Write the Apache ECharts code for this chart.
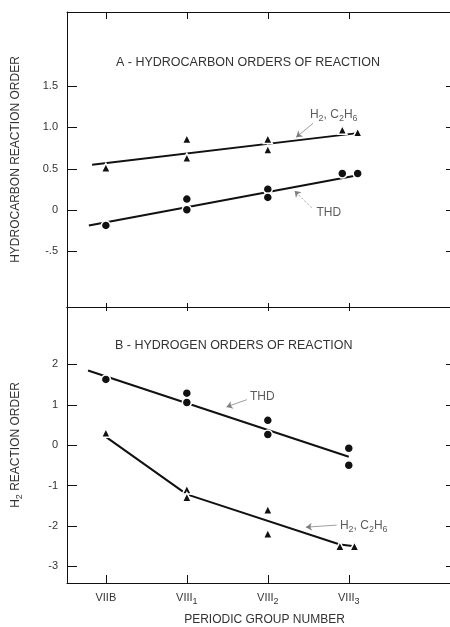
<!DOCTYPE html>
<html><head><meta charset="utf-8">
<script src="https://cdn.jsdelivr.net/npm/echarts@6/dist/echarts.min.js"></script>
<style>html,body{margin:0;padding:0;background:#fff}#c{width:450px;height:627px}</style>
</head><body><div id="c"></div><script>
// ---- data ----
const groupPos = [1, 2, 3, 4];
const groupLabels = ['VIIB', 'VIII{s|1}', 'VIII{s|2}', 'VIII{s|3}'];

// Panel A: hydrocarbon orders of reaction
const aThdX = [1, 2, 2, 3, 3, 3.92, 4.11];
const aThdY = [-0.19, 0.13, 0.0, 0.25, 0.15, 0.44, 0.44];
const aH2X = [1, 2, 2, 3, 3, 3.92, 4.11];
const aH2Y = [0.51, 0.86, 0.63, 0.86, 0.73, 0.97, 0.94];
const aThdFitX = [0.79, 4.11];
const aThdFitY = [-0.19, 0.42];
const aH2FitX = [0.83, 4.11];
const aH2FitY = [0.545, 0.93];
const aTicks = [-0.5, 0, 0.5, 1, 1.5];
const aTickLabels = ['-.5', '0', '0.5', '1.0', '1.5'];

// Panel B: hydrogen orders of reaction
const bThdX = [1, 2, 2, 3, 3, 4, 4];
const bThdY = [1.62, 1.28, 1.05, 0.61, 0.26, -0.08, -0.5];
const bH2X = [1, 2, 2, 3, 3, 3.89, 4.07];
const bH2Y = [0.3, -1.1, -1.29, -1.6, -2.19, -2.5, -2.5];
const bThdFitX = [0.78, 4.0];
const bThdFitY = [1.84, -0.29];
const bH2FitX = [1.0, 2.0, 3.89, 4.07];
const bH2FitY = [0.2, -1.22, -2.46, -2.5];
const bTicks = [-3, -2, -1, 0, 1, 2];
const bTickLabels = ['-3', '-2', '-1', '0', '1', '2'];

const zip = (xs, ys) => xs.map((x, i) => [x, ys[i]]);

const FONT = 'Liberation Sans';
const INK = '#111';
const TXT = '#333';
const subRich = {
  s: { fontSize: 9, fontFamily: FONT, color: TXT, verticalAlign: 'bottom', lineHeight: 16 }
};
const X_MIN = 0.52, X_MAX = 5.25;
const A_MIN = -1.18, A_MAX = 2.4;
const B_MIN = -3.41, B_MAX = 3.41;

function xAx(grid, pos, lineShow, labels) {
  return {
    type: 'value', gridIndex: grid, position: pos, min: X_MIN, max: X_MAX,
    axisLine: { show: lineShow, onZero: false, lineStyle: { color: INK, width: 1 } },
    axisTick: { show: false },
    axisLabel: labels ? {
      show: true, customValues: groupPos, margin: 7, fontFamily: FONT, fontSize: 11, color: TXT,
      lineHeight: 16,
      formatter: v => groupLabels[groupPos.indexOf(v)], rich: subRich
    } : { show: false },
    splitLine: { show: false }
  };
}
function yAx(grid, pos, min, max, ticks, labels, name) {
  const left = pos === 'left';
  return {
    type: 'value', gridIndex: grid, position: pos, min: min, max: max,
    axisLine: { show: left, onZero: false, lineStyle: { color: INK, width: 1 } },
    axisTick: { show: false },
    axisLabel: left ? {
      show: true, customValues: ticks, margin: 9, fontFamily: FONT, fontSize: 11, color: TXT,
      formatter: v => labels[ticks.indexOf(v)]
    } : { show: false },
    splitLine: { show: false },
    name: left ? name : '', nameLocation: 'middle', nameGap: 43,
    nameTextStyle: { fontFamily: FONT, fontSize: 12, color: TXT, lineHeight: 16,
      rich: { s: { fontSize: 9, fontFamily: FONT, color: TXT, verticalAlign: 'bottom', lineHeight: 16 } } }
  };
}

// tick marks placed through the axis scales (api.coord), drawn with a fixed pixel length
function ticks(xi, yi, pts, dx, dy) {
  return {
    type: 'custom', xAxisIndex: xi, yAxisIndex: yi, silent: true, z: 6, clip: false,
    data: pts, encode: { x: 0, y: 1 },
    renderItem: function (params, api) {
      const p = api.coord([api.value(0), api.value(1)]);
      let x = p[0], y = p[1];
      if (dx === 0) x = Math.round(x) + 0.5; else y = Math.round(y) + 0.5;
      return { type: 'line', shape: { x1: x, y1: y, x2: x + dx, y2: y + dy },
        style: { stroke: INK, lineWidth: 1 } };
    }
  };
}

function fit(xi, yi, xs, ys) {
  return { type: 'line', xAxisIndex: xi, yAxisIndex: yi, data: zip(xs, ys), symbol: 'none',
    lineStyle: { color: INK, width: 2 }, z: 2, silent: true };
}
function pts(xi, yi, xs, ys, sym, size) {
  return { type: 'scatter', xAxisIndex: xi, yAxisIndex: yi, data: zip(xs, ys), symbol: sym, symbolSize: size,
    itemStyle: { color: INK, borderColor: '#fff', borderWidth: 1.5, opacity: 1 }, z: 3, silent: true };
}
function note(xi, yi, coord, text) {
  return { type: 'scatter', xAxisIndex: xi, yAxisIndex: yi, data: [coord], symbolSize: 0, z: 4, silent: true,
    label: { show: true, position: 'right', distance: 0, formatter: text, fontFamily: FONT, fontSize: 12,
      color: TXT, lineHeight: 16, rich: { s: { fontSize: 9, fontFamily: FONT, color: TXT, verticalAlign: 'bottom', lineHeight: 16 } } } };
}
function arrow(xi, yi, from, to, dashed) {
  return { type: 'lines', coordinateSystem: 'cartesian2d', xAxisIndex: xi, yAxisIndex: yi, z: 4, silent: true,
    symbol: ['none', 'arrow'], symbolSize: 6,
    lineStyle: { color: '#666', width: 0.8, type: dashed ? [2, 2] : 'solid', opacity: 0.8 },
    data: [{ coords: [from, to] }] };
}

const chart = echarts.init(document.getElementById('c'), null, { renderer: 'canvas' });
chart.setOption({
  animation: false,
  backgroundColor: '#fff',
  title: [
    { text: 'A - HYDROCARBON ORDERS OF REACTION', left: 111, top: 51,
      textStyle: { fontFamily: FONT, fontSize: 12.5, fontWeight: 'normal', color: TXT } },
    { text: 'B - HYDROGEN ORDERS OF REACTION', left: 110, top: 334,
      textStyle: { fontFamily: FONT, fontSize: 12.5, fontWeight: 'normal', color: TXT } }
  ],
  grid: [
    { left: 67, right: 0, top: 12, height: 295 },
    { left: 67, right: 0, top: 307, height: 280 }
  ],
  xAxis: [
    xAx(0, 'bottom', true, false),
    xAx(0, 'top', true, false),
    xAx(1, 'bottom', true, true),
    xAx(1, 'top', true, false)
  ],
  yAxis: [
    yAx(0, 'left', A_MIN, A_MAX, aTicks, aTickLabels, 'HYDROCARBON REACTION ORDER'),
    yAx(0, 'right', A_MIN, A_MAX, aTicks, aTickLabels, ''),
    yAx(1, 'left', B_MIN, B_MAX, bTicks, bTickLabels, 'H{s|2} REACTION ORDER'),
    yAx(1, 'right', B_MIN, B_MAX, bTicks, bTickLabels, '')
  ],
  series: [
    // axis ticks
    ticks(0, 0, groupPos.map(v => [v, A_MAX]), 0, 7),
    ticks(0, 0, groupPos.map(v => [v, A_MIN]), 0, -4),
    ticks(0, 0, aTicks.map(v => [X_MIN, v]), 10, 0),
    ticks(0, 0, aTicks.map(v => [X_MAX, v]), -4, 0),
    ticks(2, 2, groupPos.map(v => [v, B_MAX]), 0, 4),
    ticks(2, 2, groupPos.map(v => [v, B_MIN]), 0, -8),
    ticks(2, 2, bTicks.map(v => [X_MIN, v]), 10, 0),
    ticks(2, 2, bTicks.map(v => [X_MAX, v]), -4, 0),

    fit(0, 0, aH2FitX, aH2FitY),
    fit(0, 0, aThdFitX, aThdFitY),
    pts(0, 0, aH2X, aH2Y, 'triangle', 9),
    pts(0, 0, aThdX, aThdY, 'circle', 9),
    note(0, 0, [3.52, 1.15], 'H{s|2}, C{s|2}H{s|6}'),
    note(0, 0, [3.6, -0.04], 'THD'),
    arrow(0, 0, [3.54, 0.024], [3.33, 0.23], true),
    arrow(0, 0, [3.56, 1.05], [3.35, 0.88], false),

    fit(2, 2, bThdFitX, bThdFitY),
    fit(2, 2, bH2FitX, bH2FitY),
    pts(2, 2, bThdX, bThdY, 'circle', 9),
    pts(2, 2, bH2X, bH2Y, 'triangle', 9),
    note(2, 2, [2.78, 1.2], 'THD'),
    note(2, 2, [3.89, -1.99], 'H{s|2}, C{s|2}H{s|6}'),
    arrow(2, 2, [2.74, 1.12], [2.49, 0.94], false),
    arrow(2, 2, [3.85, -1.98], [3.47, -2.03], false)
  ]
});
chart.setOption({ xAxis: [{}, {}, {
  name: 'PERIODIC GROUP NUMBER', nameLocation: 'middle', nameGap: 31,
  nameTextStyle: { fontFamily: FONT, fontSize: 12, color: TXT, padding: [0, 0, 0, 12] }
}, {}] });
</script></body></html>
